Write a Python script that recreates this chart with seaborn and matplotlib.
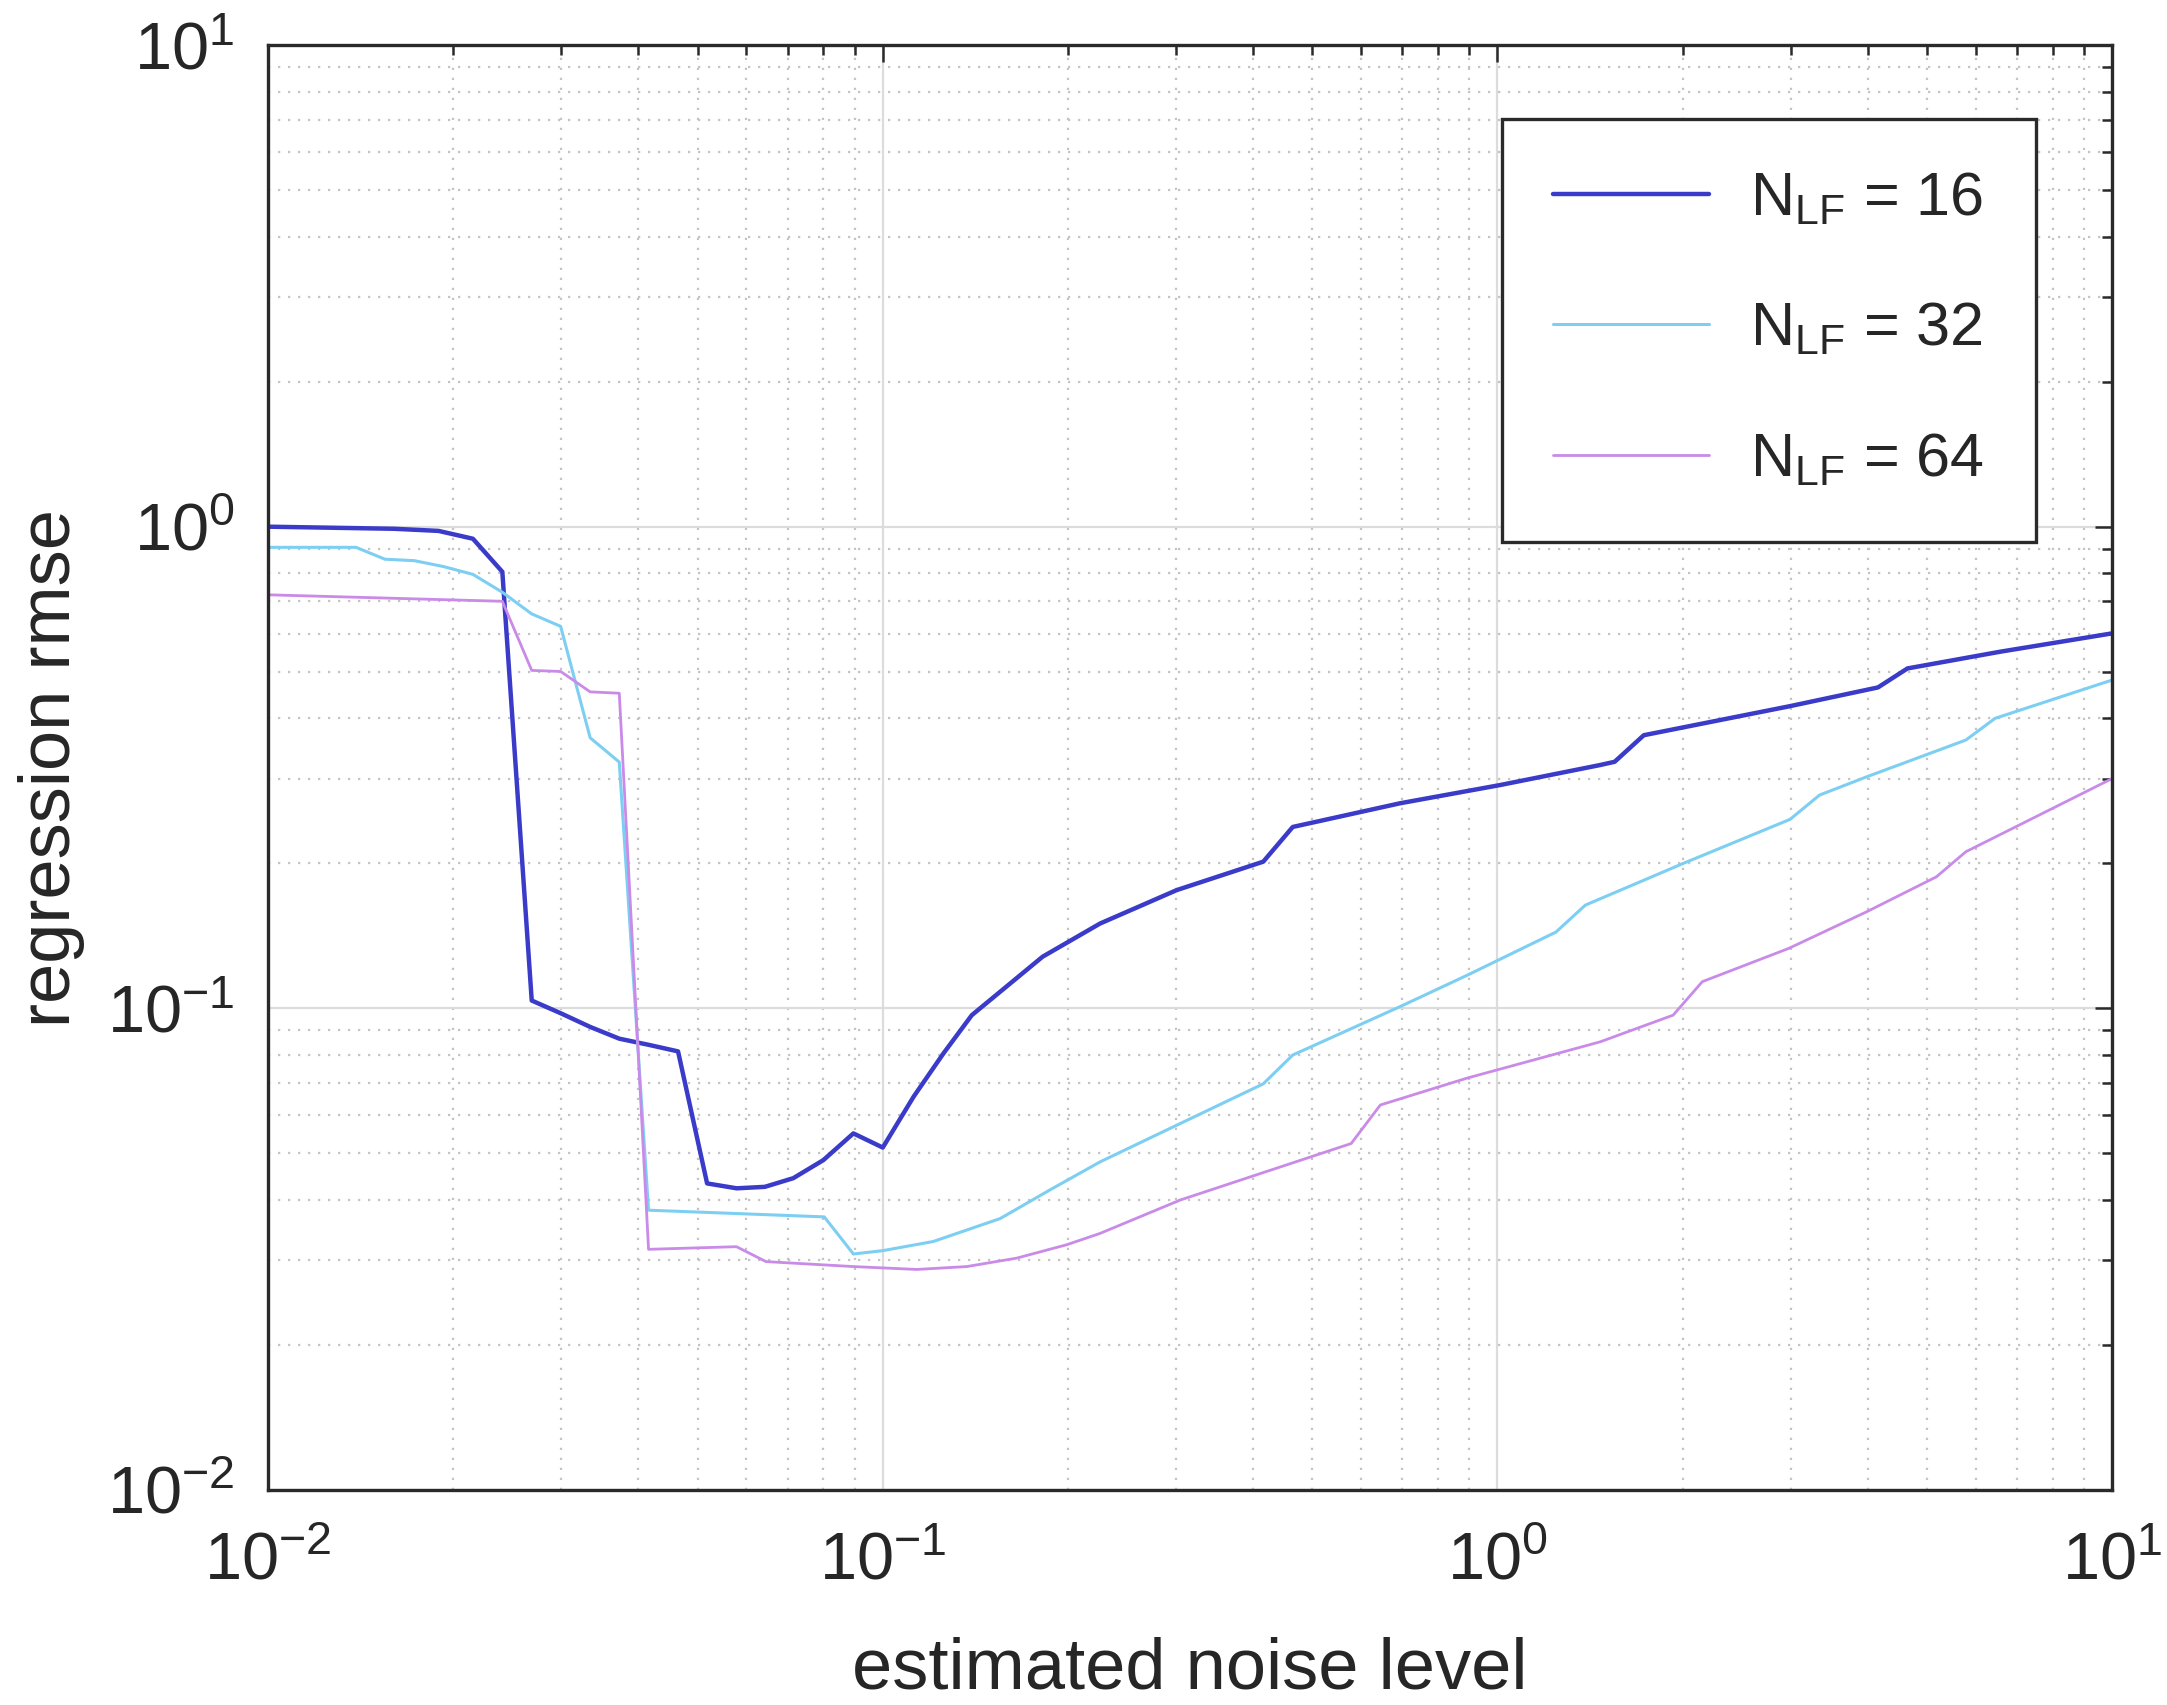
import numpy as np
import pandas as pd
import seaborn as sns
import matplotlib.pyplot as plt
from matplotlib.ticker import LogLocator, NullFormatter

# values (log-log axes)
noise_16 = [0.0100, 0.01603, 0.01894, 0.02154, 0.02405, 0.02685, 0.02992, 0.03342,
            0.03727, 0.04159, 0.04645, 0.05179, 0.05786, 0.0643, 0.07152, 0.08004,
            0.08958, 0.1000, 0.1122, 0.1255, 0.1396, 0.182, 0.2257, 0.3008, 0.4159,
            0.4645, 0.694, 1.01, 1.469, 1.551, 1.73, 2.991, 4.159, 4.645, 6.571, 10.0]
rmse_16 = [1.00, 0.99, 0.98, 0.944, 0.806, 0.1038, 0.0977, 0.0915,
           0.0865, 0.0840, 0.0814, 0.0433, 0.0423, 0.0426, 0.0444, 0.0484,
           0.055, 0.0514, 0.0655, 0.0806, 0.0968, 0.128, 0.150, 0.176, 0.2016,
           0.238, 0.2665, 0.2908, 0.32, 0.325, 0.369, 0.424, 0.4637, 0.5078, 0.55, 0.6005]

noise_32 = [0.0100, 0.0139, 0.01549, 0.0173, 0.01932, 0.02154, 0.02405, 0.02685,
            0.02992, 0.03342, 0.03727, 0.04159, 0.08032, 0.08958, 0.1000, 0.1208,
            0.1552, 0.1872, 0.2257, 0.3008, 0.4159, 0.4645, 0.694, 0.891, 1.245,
            1.39, 2.007, 2.992, 3.342, 3.988, 5.781, 6.449, 10.0]
rmse_32 = [0.906, 0.906, 0.856, 0.85, 0.826, 0.796, 0.731, 0.659,
           0.621, 0.3645, 0.3245, 0.0381, 0.0369, 0.0309, 0.0314, 0.0328,
           0.0366, 0.042, 0.048, 0.0572, 0.0697, 0.080, 0.1008, 0.117, 0.144,
           0.1638, 0.20, 0.2468, 0.2772, 0.3025, 0.3606, 0.40, 0.4804]

noise_64 = [0.0100, 0.02405, 0.02685, 0.02992, 0.03342, 0.03727, 0.04159, 0.05781,
            0.06457, 0.08954, 0.1136, 0.1370, 0.1652, 0.1992, 0.2257, 0.3048,
            0.5781, 0.6449, 0.891, 1.469, 1.931, 2.154, 2.974, 3.988, 5.176, 5.781, 10.0]
rmse_64 = [0.722, 0.70, 0.503, 0.5005, 0.454, 0.451, 0.0316, 0.032,
           0.0298, 0.0291, 0.0287, 0.0291, 0.0303, 0.0323, 0.0341, 0.040,
           0.0524, 0.063, 0.0716, 0.0852, 0.0968, 0.1136, 0.1331, 0.1587, 0.1875, 0.2114, 0.300]

n_lf = [16, 32, 64]
colors = ['#3b3bca', '#7ccff2', '#c98ae8']
widths = [1.6, 1.1, 1.0]

ticks = [0.01, 0.1, 1, 10]
tick_labels = [r'$\mathregular{10^{-2}}$', r'$\mathregular{10^{-1}}$',
               r'$\mathregular{10^{0}}$', r'$\mathregular{10^{1}}$']

sns.set_style('white')
plt.rcParams['font.family'] = ['Liberation Sans', 'DejaVu Sans']
plt.rcParams['mathtext.fontset'] = 'custom'
plt.rcParams['mathtext.rm'] = 'Liberation Sans'
plt.rcParams['mathtext.it'] = 'Liberation Sans:italic'
plt.rcParams['mathtext.bf'] = 'Liberation Sans:bold'

fig = plt.figure(figsize=(10.835, 8.525), dpi=200)
ax = fig.add_axes([0.1237, 0.1261, 0.8510, 0.8475])
ax.set_axisbelow(True)

series = [(noise_16, rmse_16), (noise_32, rmse_32), (noise_64, rmse_64)]
for (x, y), n, c, lw in zip(series, n_lf, colors, widths):
    df = pd.DataFrame({'noise': x, 'rmse': y})
    sns.lineplot(data=df, x='noise', y='rmse', ax=ax, color=c, linewidth=lw,
                 label=r'N$_{\mathregular{LF}}$ = %d' % n)

ax.set_xscale('log')
ax.set_yscale('log')
ax.set_xlim(0.01, 10)
ax.set_ylim(0.01, 10)
ax.set_xticks(ticks, labels=tick_labels)
ax.set_yticks(ticks, labels=tick_labels)
for axis in (ax.xaxis, ax.yaxis):
    axis.set_minor_locator(LogLocator(base=10, subs=np.arange(2, 10)))
    axis.set_minor_formatter(NullFormatter())

ax.grid(True, which='major', color='#dcdcdc', lw=0.8, ls='-')
ax.grid(True, which='minor', color='#c4c4c4', lw=0.8, ls=(0, (1, 3.5)))

ax.tick_params(which='both', direction='in', top=True, right=True,
               color='#2a2a2a', width=0.9)
ax.tick_params(which='major', length=6, labelsize=24)
ax.tick_params(axis='x', which='major', pad=15)
ax.tick_params(axis='y', which='major', pad=12)
ax.tick_params(which='minor', length=3.5)
for s in ax.spines.values():
    s.set_color('#2a2a2a')
    s.set_linewidth(1.2)

ax.set_xlabel('estimated noise level', fontsize=26)
ax.xaxis.set_label_coords(0.5, -0.1016)
ax.set_ylabel('regression rmse', fontsize=26, labelpad=8)

leg = ax.legend(loc='upper right', bbox_to_anchor=(0.9588, 0.9488), fontsize=22,
                frameon=True, fancybox=False, edgecolor='#2a2a2a', framealpha=1,
                handlelength=2.55, handletextpad=0.67,
                labelspacing=1.21, borderpad=0.85, borderaxespad=0)
leg.get_frame().set_linewidth(1.2)

fig.savefig('out.png', dpi=200)
